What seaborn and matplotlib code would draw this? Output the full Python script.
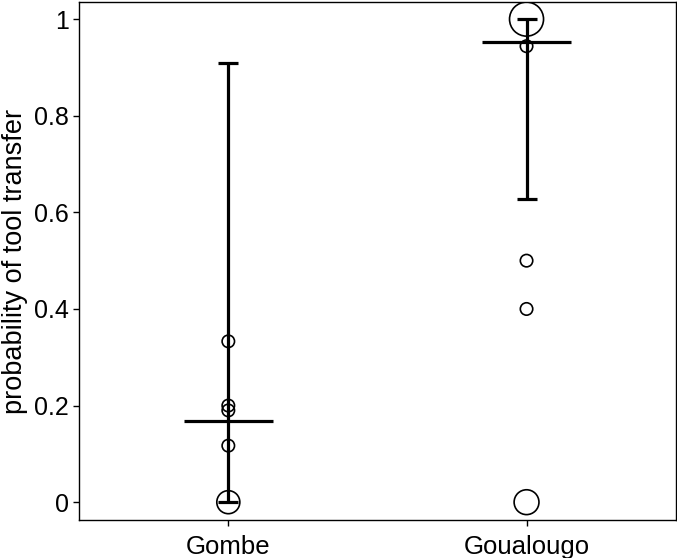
import matplotlib
matplotlib.use('Agg')
import matplotlib.pyplot as plt
import pandas as pd
import seaborn as sns

# Data
sites = ['Gombe', 'Goualougo']

# individual observations (site, probability, number of pairs -> marker size)
point_site = ['Gombe', 'Gombe', 'Gombe', 'Gombe', 'Gombe',
              'Goualougo', 'Goualougo', 'Goualougo', 'Goualougo', 'Goualougo']
point_prob = [0.0, 0.117, 0.19, 0.2, 0.333,
              1.0, 0.944, 0.5, 0.4, 0.0]
point_n = [3, 1, 1, 1, 1,
           6, 1, 1, 1, 4]

# model estimates with intervals
est_mean = [0.168, 0.952]
est_low = [0.0, 0.628]
est_high = [0.91, 1.0]

df = pd.DataFrame({'site': point_site, 'prob': point_prob, 'n': point_n})
df['x'] = df['site'].map({s: i for i, s in enumerate(sites)})

sns.set_theme(style='white')
plt.rcParams['font.family'] = ['Liberation Sans', 'DejaVu Sans']

fig, ax = plt.subplots(figsize=(6.77, 5.58), dpi=100)

sns.scatterplot(data=df, x='x', y='prob', size='n',
                sizes={1: 80, 3: 275, 4: 320, 6: 600},
                facecolor='none', edgecolor='black', linewidth=1.2,
                legend=False, ax=ax, zorder=3)

xs = list(range(len(sites)))
yerr = [[m - lo for m, lo in zip(est_mean, est_low)],
        [hi - m for m, hi in zip(est_mean, est_high)]]
ax.errorbar(xs, est_mean, yerr=yerr, fmt='none', ecolor='black',
            elinewidth=2.3, capsize=7, capthick=2.3, zorder=4)
ax.hlines(est_mean, [x - 0.15 for x in xs], [x + 0.15 for x in xs],
          colors='black', linewidth=2.3, zorder=4)

ax.set_xlim(-0.5, 1.5)
ax.set_ylim(-0.037, 1.035)
ax.set_xticks(xs)
ax.set_xticklabels(sites, fontsize=18.5)
ax.set_yticks([0, 0.2, 0.4, 0.6, 0.8, 1.0])
ax.set_yticklabels(['0', '0.2', '0.4', '0.6', '0.8', '1'], fontsize=18)
ax.set_xlabel('')
ax.set_ylabel('probability of tool transfer', fontsize=19.5, color='black',
              labelpad=4)
ax.tick_params(axis='both', colors='black', length=4.5, width=1,
               direction='out', left=True, bottom=True)
ax.tick_params(axis='x', pad=6)
ax.tick_params(axis='y', pad=3)

for sp in ax.spines.values():
    sp.set_color('black')
    sp.set_linewidth(1)

fig.subplots_adjust(left=0.117, right=0.998, top=0.996, bottom=0.068)
fig.savefig('out.png', dpi=100)
